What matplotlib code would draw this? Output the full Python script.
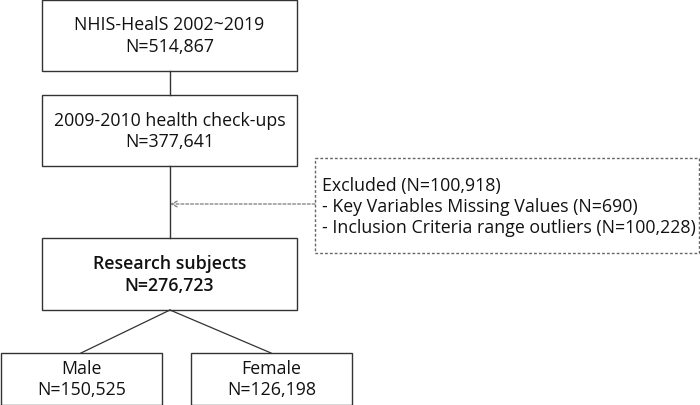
import matplotlib.pyplot as plt
from matplotlib.patches import Rectangle

plt.rcParams['font.family'] = ['Open Sans', 'DejaVu Sans']

# box texts
top_lines = ['NHIS-HealS 2002~2019', 'N=514,867']
checkup_lines = ['2009-2010 health check-ups', 'N=377,641']
subject_lines = ['Research subjects', 'N=276,723']
male_lines = ['Male', 'N=150,525']
female_lines = ['Female', 'N=126,198']
excluded_lines = ['Excluded (N=100,918)',
                  '- Key Variables Missing Values (N=690)',
                  '- Inclusion Criteria range outliers (N=100,228)']

fig = plt.figure(figsize=(7, 4.06), dpi=100)
ax = fig.add_axes([0, 0, 1, 1])
ax.set_xlim(0, 700)
ax.set_ylim(406, 0)
ax.axis('off')

edge = '#333333'
fs = 12.8


def box(x0, y0, x1, y1, lines, bold=False):
    ax.add_patch(Rectangle((x0, y0), x1 - x0, y1 - y0, fill=False,
                           edgecolor=edge, linewidth=1))
    cy = (y0 + y1) / 2
    n = len(lines)
    for i, t in enumerate(lines):
        y = cy + (i - (n - 1) / 2) * 21.5
        ax.text((x0 + x1) / 2, y, t, ha='center', va='center', fontsize=fs,
                fontweight='semibold' if bold else 'normal', color='#111111')


box(42, 0.5, 297, 72, top_lines)
box(42, 96, 297, 167, checkup_lines)
box(42, 239, 297, 311, subject_lines, bold=True)
box(0.5, 354, 162, 405.5, male_lines)
box(191, 354, 352, 405.5, female_lines)

# connectors
ax.plot([170, 170], [72, 96], color=edge, lw=1)
ax.plot([170, 170], [167, 239], color=edge, lw=1)
ax.plot([170, 81], [311, 354], color=edge, lw=0.9)
ax.plot([170, 271], [311, 354], color=edge, lw=0.9)

# excluded box
ax.add_patch(Rectangle((315, 159), 384, 95, fill=False, edgecolor='#666666',
                       linewidth=1, linestyle=(0, (2, 1.5))))
for i, t in enumerate(excluded_lines):
    ax.text(322, 186 + i * 21, t, ha='left', va='center', fontsize=fs, color='#111111')

ax.annotate('', xy=(170, 205), xytext=(315, 205),
            arrowprops=dict(arrowstyle='->', color='#888888', lw=1,
                            linestyle=(0, (2, 1.5)), shrinkA=0, shrinkB=0))

fig.savefig('out.png', dpi=100)
